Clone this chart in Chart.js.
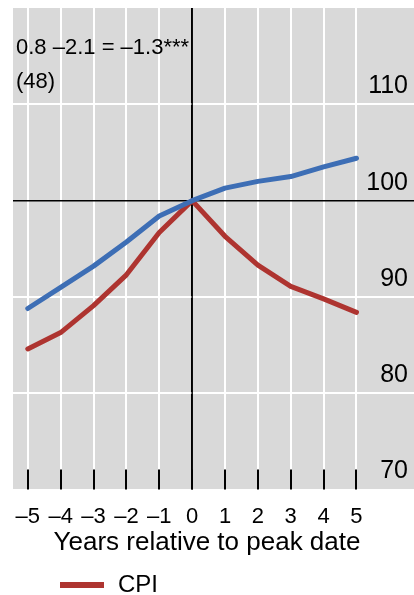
<!DOCTYPE html>
<html lang="en">
<head>
    <meta charset="UTF-8">
    <title>CPI around peak date</title>
    <script src="https://cdn.jsdelivr.net/npm/chart.js"></script>
    <style>
        body { margin: 0; background: #fff; }
        #wrap { width: 414px; height: 595px; position: relative; }
    </style>
</head>
<body>
    <div id="wrap"><canvas id="chart"></canvas></div>

    <script>
        // values (index, peak = 100)
        const xYears = [-5, -4, -3, -2, -1, 0, 1, 2, 3, 4, 5];
        const xTickLabels = ['\u20135', '\u20134', '\u20133', '\u20132', '\u20131', '0', '1', '2', '3', '4', '5'];
        const otherSeries = [88.8, 91.0, 93.2, 95.7, 98.4, 100, 101.3, 102.0, 102.5, 103.5, 104.4];
        const cpiSeries = [84.6, 86.3, 89.1, 92.3, 96.7, 100, 96.3, 93.3, 91.1, 89.8, 88.4];
        const yTicks = [70, 80, 90, 100, 110];
        const yTickLabels = ['70', '80', '90', '100', '110'];
        const noteLines = ['0.8 \u20132.1 = \u20131.3***', '(48)'];
        const xTitle = 'Years relative to peak date';

        const BLUE = '#3d6eb5';
        const RED = '#ae3430';
        const FONT = "'Liberation Sans', Arial, sans-serif";

        Chart.defaults.font.family = FONT;
        Chart.defaults.color = '#000';

        const toPoints = arr => xYears.map((x, i) => ({ x: x, y: arr[i] }));

        // gray panel, notes, y labels, bottom ticks, x title, legend
        const decor = {
            id: 'decor',
            beforeDraw(chart) {
                const { ctx, chartArea: a } = chart;
                ctx.save();
                ctx.fillStyle = '#d9d9d9';
                ctx.fillRect(a.left, a.top, chart.width - a.left, a.bottom - a.top);
                ctx.restore();
            },
            beforeDatasetsDraw(chart) {
                const { ctx, chartArea: a, scales } = chart;
                ctx.save();
                ctx.strokeStyle = '#000';
                ctx.lineWidth = 2;
                xYears.forEach(v => {
                    const px = Math.round(scales.x.getPixelForValue(v));
                    ctx.beginPath();
                    ctx.moveTo(px, a.bottom - 20);
                    ctx.lineTo(px, a.bottom);
                    ctx.stroke();
                });
                // zero line on top of the white grid
                const x0 = scales.x.getPixelForValue(0);
                ctx.lineWidth = 1.5;
                ctx.beginPath();
                ctx.moveTo(x0, a.top);
                ctx.lineTo(x0, a.bottom);
                ctx.stroke();

                ctx.fillStyle = '#000';
                ctx.textBaseline = 'middle';
                ctx.font = '22px ' + FONT;
                ctx.textAlign = 'left';
                ctx.fillText(noteLines[0], 16, 48);
                ctx.fillText(noteLines[1], 16, 82);

                ctx.font = '25px ' + FONT;
                ctx.textAlign = 'right';
                yTicks.forEach((v, i) => {
                    ctx.fillText(yTickLabels[i], chart.width - 6, scales.y.getPixelForValue(v) - 18);
                });

                ctx.font = '26px ' + FONT;
                ctx.textAlign = 'center';
                ctx.fillText(xTitle, chart.width / 2, 543);
                ctx.restore();
            },
            afterDraw(chart) {
                const { ctx } = chart;
                const ds = chart.data.datasets[1];
                ctx.save();
                ctx.strokeStyle = ds.borderColor;
                ctx.lineWidth = 6;
                ctx.beginPath();
                ctx.moveTo(60, 585);
                ctx.lineTo(104, 585);
                ctx.stroke();
                ctx.fillStyle = '#000';
                ctx.font = '24px ' + FONT;
                ctx.textAlign = 'left';
                ctx.textBaseline = 'middle';
                ctx.fillText(ds.label, 118, 585);
                ctx.restore();
            }
        };

        new Chart(document.getElementById('chart'), {
            type: 'line',
            data: {
                datasets: [{
                    label: 'Other',
                    data: toPoints(otherSeries),
                    borderColor: BLUE,
                    borderWidth: 5,
                    pointRadius: 0,
                    borderCapStyle: 'round',
                    borderJoinStyle: 'round',
                    tension: 0
                }, {
                    label: 'CPI',
                    data: toPoints(cpiSeries),
                    borderColor: RED,
                    borderWidth: 5,
                    pointRadius: 0,
                    borderCapStyle: 'round',
                    borderJoinStyle: 'round',
                    tension: 0
                }]
            },
            options: {
                responsive: true,
                maintainAspectRatio: false,
                animation: false,
                layout: { padding: { left: 13, top: 8, right: 0, bottom: 51 } },
                plugins: { legend: { display: false }, tooltip: { enabled: false } },
                scales: {
                    x: {
                        type: 'linear',
                        min: -5.45,
                        max: 6.75,
                        afterBuildTicks: scale => { scale.ticks = xYears.map(v => ({ value: v })); },
                        border: { display: false },
                        grid: {
                            drawTicks: false,
                            color: c => (c.tick && c.tick.value === 0 ? '#000' : '#fff'),
                            lineWidth: c => (c.tick && c.tick.value === 0 ? 1.5 : 2)
                        },
                        ticks: {
                            padding: 14,
                            maxRotation: 0,
                            autoSkip: false,
                            font: { size: 22 },
                            callback: v => xTickLabels[xYears.indexOf(v)]
                        }
                    },
                    y: {
                        position: 'right',
                        min: 70,
                        max: 120,
                        afterBuildTicks: scale => { scale.ticks = yTicks.map(v => ({ value: v })); },
                        border: { display: false },
                        grid: {
                            drawTicks: false,
                            color: c => (c.tick && c.tick.value === 100 ? '#000' : '#fff'),
                            lineWidth: c => (c.tick && c.tick.value === 100 ? 1.5 : 2)
                        },
                        ticks: { display: false }
                    }
                }
            },
            plugins: [decor]
        });
    </script>
</body>
</html>
